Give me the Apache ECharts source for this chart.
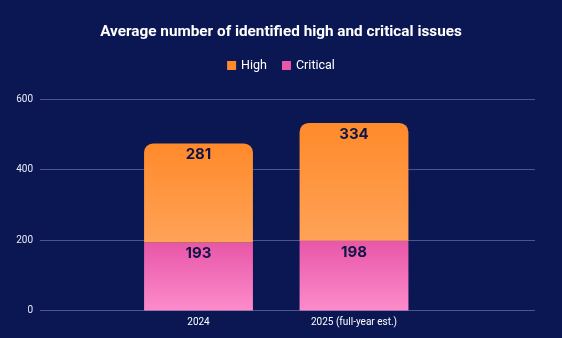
<!DOCTYPE html>
<html>
<head>
<meta charset="utf-8">
<script src="https://cdn.jsdelivr.net/npm/echarts@6/dist/echarts.min.js"></script>
<style>
  html, body { margin: 0; padding: 0; background: #0b1752; }
  #chart { width: 562px; height: 338px; }
</style>
</head>
<body>
<div id="chart"></div>
<script>
// Chart data
const categories = ['2024', '2025 (full-year est.)'];
const criticalValues = [193, 198];
const highValues = [281, 334];
const yTicks = [0, 200, 400, 600];

const chart = echarts.init(document.getElementById('chart'));
const FONT = 'Roboto, "Noto Sans", sans-serif';

const grad = (top, bottom) => new echarts.graphic.LinearGradient(0, 0, 0, 1, [
  { offset: 0, color: top },
  { offset: 1, color: bottom }
]);

const labelStyle = {
  show: true,
  position: 'insideTop',
  distance: 4,
  color: '#0f1645',
  fontFamily: 'Inter, Roboto, sans-serif',
  fontWeight: 'bold',
  fontSize: 15
};

chart.setOption({
  backgroundColor: '#0b1752',
  animation: false,
  title: {
    text: 'Average number of identified high and critical issues',
    left: 'center',
    top: 20,
    textStyle: { color: '#ffffff', fontFamily: FONT, fontWeight: 'bold', fontSize: 15.3 }
  },
  legend: {
    top: 54,
    left: 'center',
    itemWidth: 9,
    itemHeight: 9,
    itemGap: 15,
    icon: 'rect',
    data: [
      { name: 'High', itemStyle: { color: '#ff8a2b' } },
      { name: 'Critical', itemStyle: { color: '#e957a9' } }
    ],
    textStyle: { color: '#ffffff', fontFamily: FONT, fontSize: 12.5 }
  },
  grid: [
    { left: 40, right: 27, top: 99, bottom: 27.5 },
    { left: 120.75, right: 130.25, top: 99, bottom: 27.5 }
  ],
  xAxis: [
    { gridIndex: 0, type: 'category', data: categories, show: false },
    {
      gridIndex: 1, type: 'category', data: categories,
      axisLine: { show: false }, axisTick: { show: false },
      axisLabel: { color: '#ffffff', fontFamily: FONT, fontSize: 10, margin: 7 }
    }
  ],
  yAxis: [
    {
      gridIndex: 0, type: 'value', min: yTicks[0], max: yTicks[yTicks.length - 1], interval: 200,
      axisLine: { show: false }, axisTick: { show: false },
      axisLabel: { color: '#e8eaf4', fontFamily: FONT, fontSize: 10, margin: 7 },
      splitLine: { lineStyle: { color: '#4a5590', width: 1 } }
    },
    {
      gridIndex: 1, type: 'value', min: yTicks[0], max: yTicks[yTicks.length - 1], interval: 200,
      show: false, splitLine: { show: false }
    }
  ],
  series: [
    {
      name: 'Critical', type: 'bar', stack: 'total',
      xAxisIndex: 1, yAxisIndex: 1,
      barWidth: '70%',
      data: criticalValues,
      itemStyle: { color: grad('#e856a8', '#fc8ccb') },
      label: labelStyle
    },
    {
      name: 'High', type: 'bar', stack: 'total',
      xAxisIndex: 1, yAxisIndex: 1,
      barWidth: '70%',
      data: highValues,
      itemStyle: { color: grad('#ff8a2b', '#ffa257'), borderRadius: [9, 9, 0, 0] },
      label: labelStyle
    }
  ]
});
</script>
</body>
</html>
